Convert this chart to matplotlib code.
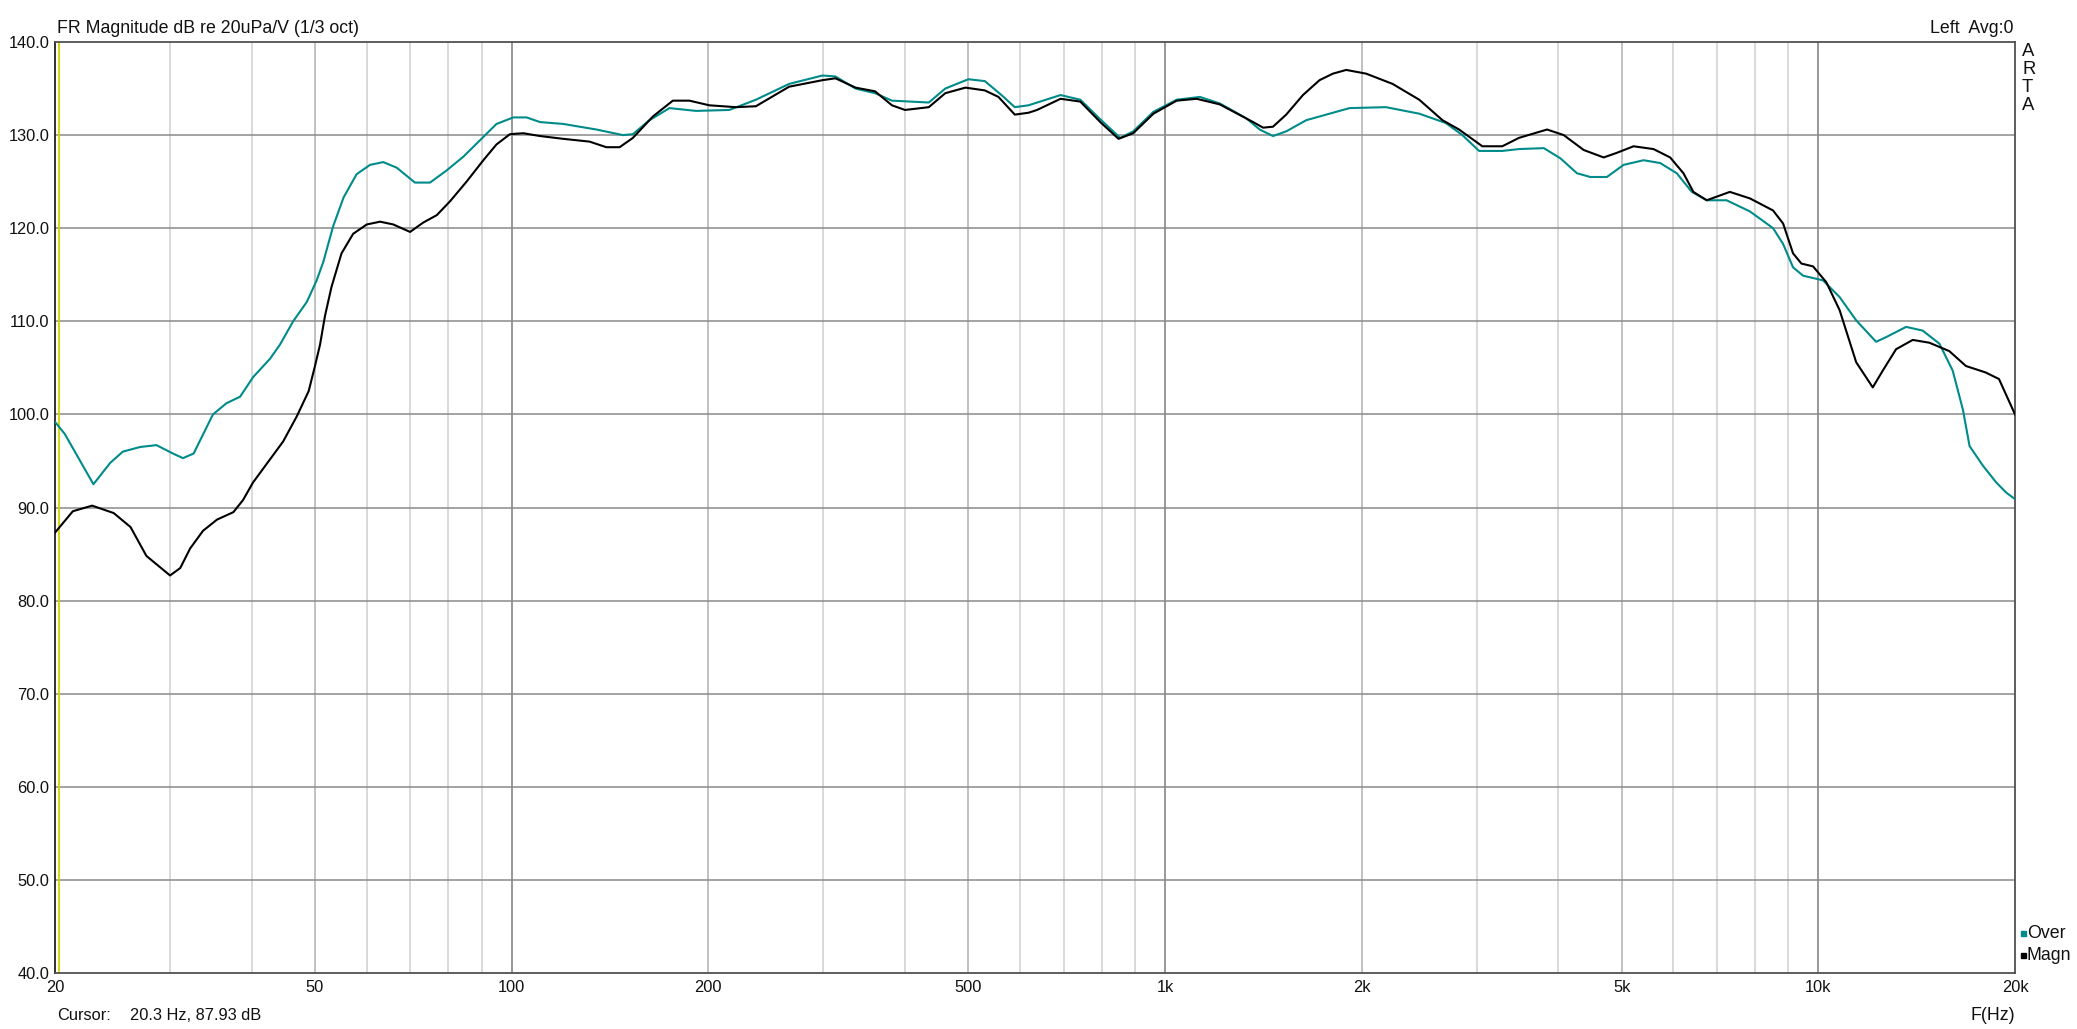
import numpy as np
import matplotlib
matplotlib.use("Agg")
import matplotlib.pyplot as plt
from matplotlib.ticker import FixedLocator, NullFormatter
from matplotlib.patches import Rectangle

plt.rcParams['font.family'] = ['Liberation Sans', 'DejaVu Sans']

# curva "Over" (teal)
freq_over = [20, 20.7, 22.9, 24.3, 25.4, 27.0, 28.6, 30.3, 31.4, 32.6, 34.9, 36.6, 38.4,
             40.2, 42.7, 44.2, 46.3, 48.6, 50.3, 51.5, 53.3, 55.3, 57.9, 60.7, 63.6, 66.7,
             71.1, 75.0, 79.5, 84.4, 90.5, 94.8, 100.6, 105.4, 110.5, 119.9, 134.8, 148.0,
             153.3, 162.5, 174.4, 191.5, 215.3, 236.5, 265.9, 299, 313, 336, 360, 382, 435,
             461, 500, 530, 562, 589, 618, 692, 742, 796, 854, 894, 960, 1042, 1131, 1213,
             1332, 1396, 1463, 1533, 1645, 1765, 1916, 2179, 2450, 2690, 2852, 3025, 3283,
             3481, 3801, 4030, 4272, 4478, 4747, 5033, 5401, 5727, 6072, 6403, 6748, 7237,
             7858, 8527, 8833, 9147, 9476, 10165, 10779, 11428, 12258, 12700, 13627, 14446,
             15321, 16058, 16647, 17040, 17859, 18715, 19391, 20000]
db_over = [99.2, 97.9, 92.5, 94.8, 96.0, 96.5, 96.7, 95.8, 95.3, 95.8, 100.0, 101.2, 101.9,
           104.0, 106.0, 107.5, 110.0, 112.1, 114.4, 116.4, 120.2, 123.3, 125.8, 126.8, 127.1,
           126.5, 124.9, 124.9, 126.2, 127.7, 129.8, 131.2, 131.9, 131.9, 131.4, 131.2, 130.6,
           130.0, 130.1, 131.6, 132.9, 132.6, 132.7, 133.8, 135.5, 136.4, 136.3, 135.0, 134.5,
           133.7, 133.5, 135.0, 136.0, 135.8, 134.3, 133.0, 133.2, 134.3, 133.8, 131.7, 129.7,
           130.4, 132.5, 133.8, 134.1, 133.4, 131.8, 130.6, 129.9, 130.4, 131.6, 132.2, 132.9,
           133.0, 132.3, 131.3, 130.0, 128.3, 128.3, 128.5, 128.6, 127.5, 125.9, 125.5, 125.5,
           126.8, 127.3, 127.0, 125.9, 123.9, 123.0, 123.0, 121.8, 120.0, 118.3, 115.8, 114.9,
           114.4, 112.6, 110.1, 107.8, 108.3, 109.4, 109.0, 107.6, 104.7, 100.5, 96.6, 94.5,
           92.7, 91.6, 90.9]

# curva "Magn" (preta)
freq_magn = [20, 21.3, 22.8, 24.6, 26.1, 27.6, 30.0, 31.1, 32.2, 33.7, 35.4, 37.5, 38.8,
             40.2, 42.7, 44.7, 46.9, 48.9, 50.0, 50.9, 51.8, 53.0, 54.9, 57.2, 60.0, 62.9,
             65.9, 69.9, 73.2, 76.8, 80.5, 85.3, 90.5, 94.8, 99.4, 104.2, 110.5, 119.9, 131.6,
             139.6, 146.3, 153.3, 164.5, 176.5, 187.1, 200.7, 220.4, 236.5, 265.9, 299, 313,
             336, 360, 382, 400, 435, 461, 495, 530, 556, 589, 618, 637, 692, 742, 796, 849,
             894, 960, 1042, 1118, 1213, 1364, 1413, 1463, 1533, 1626, 1724, 1807, 1894, 2032,
             2230, 2450, 2659, 2819, 3060, 3283, 3481, 3844, 4077, 4374, 4693, 4918, 5214,
             5594, 5932, 6217, 6438, 6748, 7321, 7858, 8527, 8833, 9147, 9421, 9815, 10285,
             10779, 11428, 12115, 12549, 13152, 13947, 14788, 15864, 16822, 18040, 18903, 20000]
db_magn = [87.3, 89.6, 90.2, 89.4, 87.9, 84.8, 82.7, 83.5, 85.6, 87.5, 88.7, 89.5, 90.8,
           92.7, 95.2, 97.1, 99.8, 102.5, 105.2, 107.5, 110.6, 113.7, 117.3, 119.4, 120.4,
           120.7, 120.4, 119.6, 120.6, 121.4, 122.9, 125.0, 127.3, 129.0, 130.1, 130.2, 129.9,
           129.6, 129.3, 128.7, 128.7, 129.7, 132.0, 133.7, 133.7, 133.2, 133.0, 133.1, 135.2,
           135.9, 136.1, 135.1, 134.7, 133.2, 132.7, 133.0, 134.5, 135.1, 134.8, 134.1, 132.2,
           132.4, 132.7, 133.9, 133.6, 131.4, 129.6, 130.2, 132.3, 133.7, 133.9, 133.3, 131.4,
           130.8, 130.9, 132.2, 134.3, 135.9, 136.6, 137.0, 136.6, 135.5, 133.8, 131.6, 130.6,
           128.8, 128.8, 129.7, 130.6, 130.0, 128.4, 127.6, 128.1, 128.8, 128.5, 127.6, 125.9,
           123.9, 123.0, 123.9, 123.2, 121.9, 120.5, 117.3, 116.2, 115.9, 114.2, 111.2, 105.6,
           102.9, 104.7, 107.0, 108.0, 107.7, 106.8, 105.2, 104.5, 103.8, 100.0]

xticks = [20, 50, 100, 200, 500, 1000, 2000, 5000, 10000, 20000]
xticklabels = ['20', '50', '100', '200', '500', '1k', '2k', '5k', '10k', '20k']
yticks = [40, 50, 60, 70, 80, 90, 100, 110, 120, 130, 140]
cursor_freq = 20.3

W, H = 2077, 1029
fig = plt.figure(figsize=(W / 100, H / 100), dpi=100)
ax = fig.add_axes([55 / W, 1 - 973 / H, (2015 - 55) / W, (973 - 42) / H])

txt = '#111111'
fs = 11.8
fs_title = 12.8

ax.set_xscale('log')
ax.set_xlim(20, 20000)
ax.set_ylim(40, 140)

# grade vertical
minors = [m * 10 ** d for d in range(1, 5) for m in range(1, 10)]
minors = [f for f in minors if 20 < f < 20000 and f not in xticks]
for f in minors:
    ax.axvline(f, color='#cfcfcf', lw=1.1, zorder=1)
for f in xticks[1:-1]:
    c = '#7c7c7c' if f in (100, 1000, 10000) else '#b0b0b0'
    ax.axvline(f, color=c, lw=1.1, zorder=1)
for y in yticks[1:-1]:
    ax.axhline(y, color='#8a8a8a', lw=1.1, zorder=1)

ax.axvline(cursor_freq, color='#d2d200', lw=1.3, zorder=2)

ax.plot(freq_over, db_over, color='#008b8b', lw=1.5, zorder=3)
ax.plot(freq_magn, db_magn, color='black', lw=1.5, zorder=4)

ax.xaxis.set_major_locator(FixedLocator(xticks))
ax.set_xticklabels(xticklabels)
ax.xaxis.set_minor_locator(FixedLocator(minors))
ax.xaxis.set_minor_formatter(NullFormatter())
ax.set_yticks(yticks)
ax.set_yticklabels([f'{v:.1f}' for v in yticks])
ax.tick_params(which='both', length=0, labelsize=fs, colors=txt, pad=5)
ax.tick_params(axis='y', pad=4)

for s in ax.spines.values():
    s.set_color('#505050')
    s.set_linewidth(1.3)
ax.spines['left'].set_color('#202020')

# textos
fig.text(57 / W, 1 - 28.5 / H, 'FR Magnitude dB re 20uPa/V (1/3 oct)', fontsize=fs_title, color=txt,
         ha='left', va='center')
fig.text(2014 / W, 1 - 28.5 / H, 'Left  Avg:0', fontsize=fs_title, color=txt, ha='right', va='center')
for i, ch in enumerate('ARTA'):
    fig.text(2022 / W, 1 - (52 + 18 * i) / H, ch, fontsize=fs_title + 0.5, color=txt,
             ha='left', va='center')
fig.text(57 / W, 1 - 1015 / H, 'Cursor:', fontsize=fs, color=txt, ha='left', va='center')
fig.text(130 / W, 1 - 1015 / H, '20.3 Hz, 87.93 dB', fontsize=fs, color=txt, ha='left', va='center')
fig.text(2015 / W, 1 - 1016 / H, 'F(Hz)', fontsize=fs_title, color=txt, ha='right', va='center')

# legenda
for (nome, cor, yy) in [('Over', '#008b8b', 933), ('Magn', 'black', 955)]:
    fig.patches.append(Rectangle((2021 / W, 1 - (yy + 3) / H), 5 / W, 5 / H,
                                 transform=fig.transFigure, color=cor))
    fig.text(2027 / W, 1 - yy / H, nome, fontsize=fs_title, color=txt, ha='left', va='center')

fig.savefig('out.png', dpi=100, facecolor='white')
